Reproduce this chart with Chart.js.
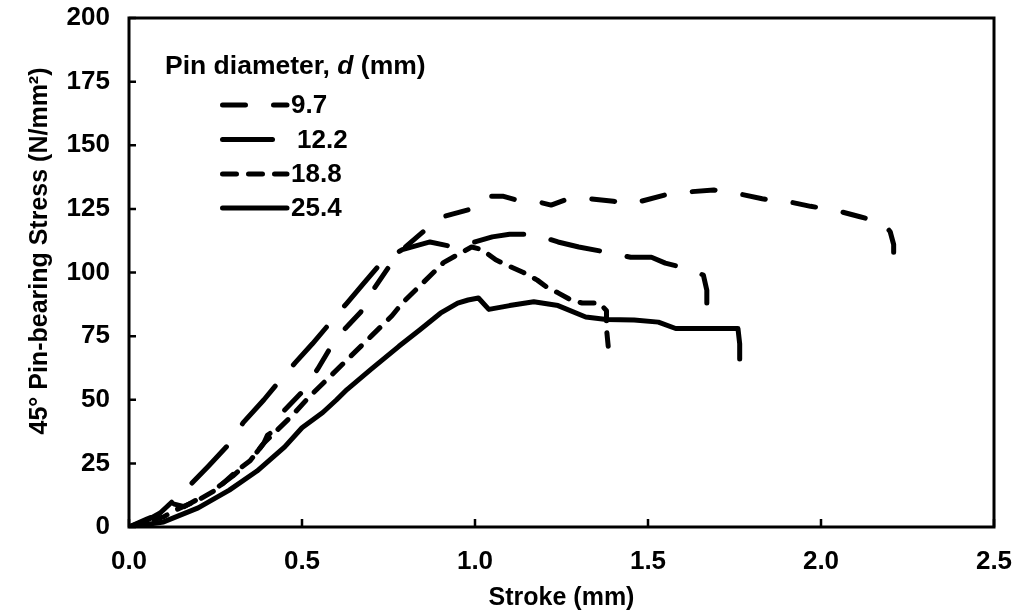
<!DOCTYPE html>
<html lang="en">
<head>
  <meta charset="UTF-8">
  <title>Pin-bearing Stress vs Stroke</title>
  <script src="https://cdn.jsdelivr.net/npm/chart.js"></script>
  <style>
    html, body { margin: 0; padding: 0; background: #fff; overflow: hidden; }
  </style>
</head>
<body>
  <canvas id="stressChart" width="1015" height="613"></canvas>

  <script>
    // Pin diameter d = 9.7 mm
    const stroke97 = [0, 0.05, 0.1, 0.13, 0.16, 0.2, 0.25, 0.3, 0.35, 0.39, 0.4, 0.42, 0.45, 0.5, 0.545, 0.58, 0.625, 0.67, 0.71, 0.75, 0.79, 0.85, 0.91, 0.99, 1.04, 1.08, 1.12, 1.19, 1.22, 1.26, 1.33, 1.4, 1.45, 1.48, 1.55, 1.61, 1.69, 1.76, 1.83, 1.87, 1.9, 1.97, 2.04, 2.11, 2.18, 2.2, 2.21, 2.21, 2.22];
    const stress97 = [0, 3, 6, 9, 8, 11, 15, 20, 26, 33, 36, 38, 46, 53, 62, 70, 78, 84.5, 94, 102, 109, 116, 122, 125, 130, 130, 128.5, 127.5, 126.5, 128.5, 129, 128, 127, 128, 130.5, 131.6, 132.4, 131, 129, 128, 128, 126, 124.5, 122, 119.5, 116, 111, 104, 98];

    // d = 12.2 mm
    const stroke122 = [0, 0.05, 0.09, 0.13, 0.18, 0.23, 0.285, 0.33, 0.39, 0.43, 0.48, 0.53, 0.58, 0.63, 0.68, 0.73, 0.79, 0.87, 0.94, 1.0, 1.05, 1.1, 1.17, 1.24, 1.3, 1.38, 1.45, 1.51, 1.55, 1.6, 1.66, 1.67, 1.67];
    const stress122 = [0, 2.5, 5.5, 10.6, 17, 24, 32, 41, 50, 56.6, 64.5, 72, 80, 88, 96, 104, 109, 112, 110, 112, 114, 115, 115, 112, 110, 108, 106, 106, 103.7, 102, 99, 93, 88];

    // d = 18.8 mm
    const stroke188 = [0, 0.05, 0.1, 0.135, 0.2, 0.25, 0.32, 0.35, 0.39, 0.47, 0.52, 0.58, 0.64, 0.7, 0.76, 0.79, 0.85, 0.91, 0.99, 1.02, 1.06, 1.09, 1.14, 1.18, 1.21, 1.24, 1.28, 1.31, 1.36, 1.38, 1.38, 1.385];
    const stress188 = [0, 2, 4, 6.7, 10.6, 14.5, 23, 26, 33, 43.6, 51, 59, 67, 75, 83, 88, 96, 104, 110, 109, 105, 103, 100, 97, 94, 92, 89, 88, 88, 85, 78, 71];

    // d = 25.4 mm
    const stroke254 = [0, 0.1, 0.2, 0.29, 0.37, 0.45, 0.5, 0.56, 0.6, 0.63, 0.7, 0.78, 0.84, 0.9, 0.95, 0.98, 1.01, 1.04, 1.1, 1.17, 1.24, 1.32, 1.38, 1.46, 1.53, 1.58, 1.76, 1.765, 1.765];
    const stress254 = [0, 2, 7.5, 14.5, 22, 31.5, 39, 45, 50, 54, 62, 71, 77.4, 84, 88, 89.2, 90, 85.5, 87, 88.5, 87, 82.5, 81.5, 81.3, 80.5, 78, 78, 72, 66];

    const seriesLabels = ['9.7', '12.2', '18.8', '25.4'];
    const seriesDash = [[23, 28], [50, 28], [14, 12], []];
    const xTicks = [0, 0.5, 1.0, 1.5, 2.0, 2.5];
    const yTicks = [0, 25, 50, 75, 100, 125, 150, 175, 200];

    const FONT = '"Liberation Sans", Arial, sans-serif';

    function toPoints(xs, ys) {
      return xs.map((x, i) => ({ x: x, y: ys[i] }));
    }

    const allSeries = [
      toPoints(stroke97, stress97),
      toPoints(stroke122, stress122),
      toPoints(stroke188, stress188),
      toPoints(stroke254, stress254)
    ];

    // frame, inward ticks, y title and the legend inside the plot
    const framePlugin = {
      id: 'frame',
      afterDraw(chart) {
        const ctx = chart.ctx;
        const area = chart.chartArea;
        const xs = chart.scales.x;
        const ys = chart.scales.y;
        ctx.save();
        ctx.strokeStyle = '#000';
        ctx.lineWidth = 3;
        ctx.strokeRect(area.left, area.top, area.right - area.left, area.bottom - area.top);
        ctx.lineWidth = 2.5;
        ctx.beginPath();
        xTicks.forEach(v => {
          const px = xs.getPixelForValue(v);
          ctx.moveTo(px, area.bottom);
          ctx.lineTo(px, area.bottom - 8);
        });
        yTicks.forEach(v => {
          const py = ys.getPixelForValue(v);
          ctx.moveTo(area.left, py);
          ctx.lineTo(area.left + 7, py);
        });
        ctx.stroke();

        ctx.fillStyle = '#000';

        // y axis title (sits a little above the middle in the original)
        ctx.save();
        ctx.translate(40, 251);
        ctx.rotate(-Math.PI / 2);
        ctx.textAlign = 'center';
        ctx.textBaseline = 'middle';
        ctx.font = 'bold 25px ' + FONT;
        ctx.fillText('45° Pin-bearing Stress (N/mm²)', 0, 0);
        ctx.restore();

        // legend
        ctx.textBaseline = 'middle';
        ctx.textAlign = 'left';
        let tx = 165;
        const ty = 67;
        const parts = [['Pin diameter, ', 'bold'], ['d', 'italic bold'], [' (mm)', 'bold']];
        parts.forEach(p => {
          ctx.font = p[1] + ' 26.5px ' + FONT;
          ctx.fillText(p[0], tx, ty);
          tx += ctx.measureText(p[0]).width;
        });
        const rowY = [105, 139.5, 174, 208];
        chart.data.datasets.forEach((ds, i) => {
          const y = rowY[i];
          ctx.save();
          ctx.lineWidth = ds.borderWidth;
          ctx.lineCap = 'round';
          ctx.setLineDash(ds.borderDash || []);
          ctx.beginPath();
          ctx.moveTo(222.5, y);
          ctx.lineTo(287, y);
          ctx.stroke();
          ctx.restore();
          ctx.font = 'bold 26px ' + FONT;
          ctx.fillText(ds.label, i === 1 ? 297 : 291, y + 1);
        });
        ctx.restore();
      }
    };

    const ctx = document.getElementById('stressChart').getContext('2d');
    new Chart(ctx, {
      type: 'line',
      data: {
        datasets: allSeries.map((pts, i) => ({
          label: seriesLabels[i],
          data: pts,
          borderColor: '#000',
          backgroundColor: '#000',
          borderWidth: 5,
          borderDash: seriesDash[i],
          borderCapStyle: 'round',
          borderJoinStyle: 'round',
          pointRadius: 0,
          tension: 0,
          fill: false
        }))
      },
      options: {
        responsive: false,
        maintainAspectRatio: false,
        animation: false,
        events: [],
        layout: { padding: { top: 18, right: 21, left: 0, bottom: 0 } },
        plugins: {
          legend: { display: false },
          tooltip: { enabled: false }
        },
        scales: {
          x: {
            type: 'linear',
            min: 0,
            max: 2.5,
            afterBuildTicks: s => { s.ticks = xTicks.map(v => ({ value: v })); },
            afterFit: s => {
              s.height = 613 - 527;
              s.paddingLeft = 0;
              s.paddingRight = 0;
            },
            grid: { display: false, drawTicks: false },
            border: { display: false },
            ticks: {
              padding: 19,
              color: '#000',
              font: { family: FONT, size: 26, weight: 'bold' },
              callback: v => v.toFixed(1)
            },
            title: {
              display: true,
              text: 'Stroke (mm)',
              color: '#000',
              font: { family: FONT, size: 25, weight: 'bold' },
              padding: { top: 0, bottom: 0 }
            }
          },
          y: {
            type: 'linear',
            min: 0,
            max: 200,
            afterBuildTicks: s => { s.ticks = yTicks.map(v => ({ value: v })); },
            afterFit: s => {
              s.width = 129;
              s.paddingTop = 0;
              s.paddingBottom = 0;
            },
            grid: { display: false, drawTicks: false },
            border: { display: false },
            ticks: {
              padding: 19,
              color: '#000',
              font: { family: FONT, size: 26, weight: 'bold' }
            },
            title: { display: false }
          }
        }
      },
      plugins: [framePlugin]
    });
  </script>
</body>
</html>
